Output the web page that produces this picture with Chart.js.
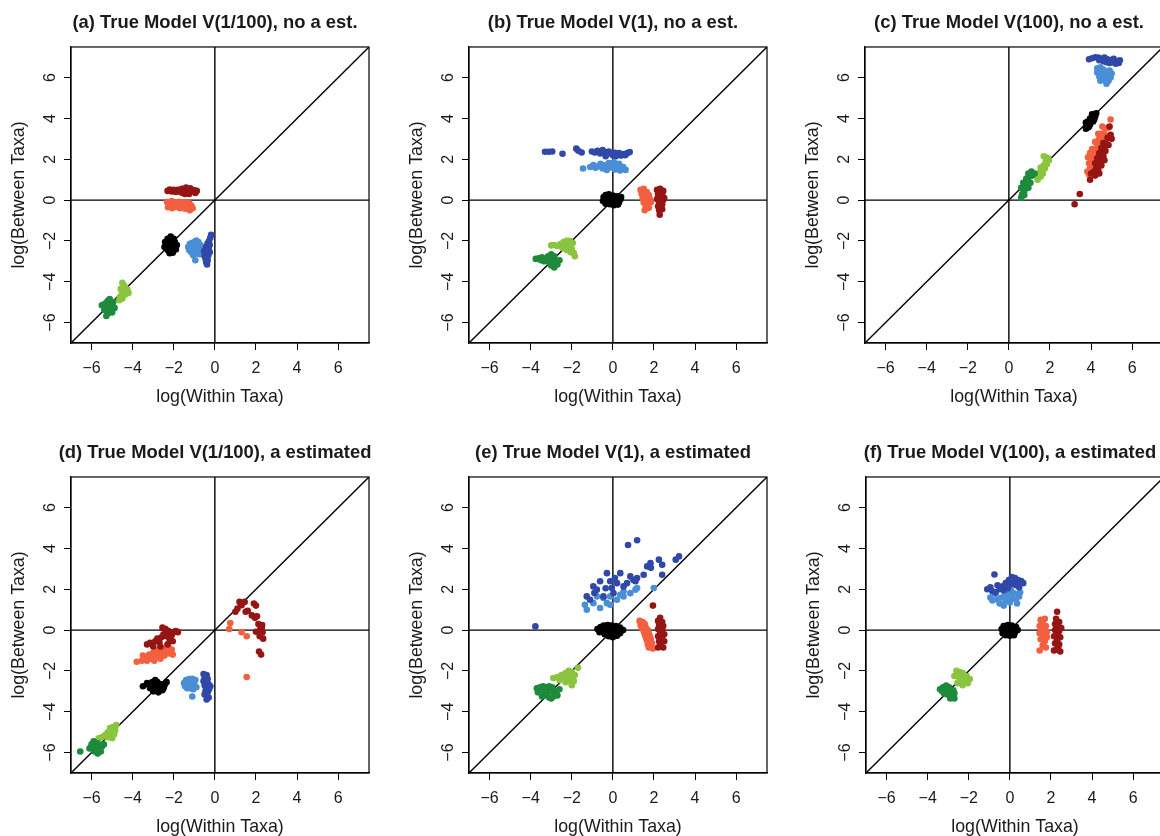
<!DOCTYPE html>
<html>
<head>
<meta charset="utf-8">
<script src="https://cdn.jsdelivr.net/npm/chart.js@4.4.1/dist/chart.umd.min.js"></script>
<style>
    html, body { margin: 0; padding: 0; background: #fff; overflow: hidden; width: 1160px; height: 836px; }
    canvas { position: absolute; }
</style>
</head>
<body>
<canvas id="panel-a" width="430" height="420" style="left:0;top:0"></canvas>
<canvas id="panel-b" width="430" height="420" style="left:398px;top:0"></canvas>
<canvas id="panel-c" width="430" height="420" style="left:794px;top:0"></canvas>
<canvas id="panel-d" width="430" height="420" style="left:0;top:430px"></canvas>
<canvas id="panel-e" width="430" height="420" style="left:398px;top:430px"></canvas>
<canvas id="panel-f" width="430" height="420" style="left:795px;top:430px"></canvas>
<script>
// axis set-up shared by all six panels
const axisMin = -7;
const axisMax = 7.5;
const tickValues = [-6, -4, -2, 0, 2, 4, 6];
const xTitle = "log(Within Taxa)";
const yTitle = "log(Between Taxa)";
const panelTitles = [
    "(a) True Model V(1/100), no a est.",
    "(b) True Model V(1), no a est.",
    "(c) True Model V(100), no a est.",
    "(d) True Model V(1/100), a estimated",
    "(e) True Model V(1), a estimated",
    "(f) True Model V(100), a estimated",
];

// reference lines: y = x, y = 0, x = 0
const diagLine = [[-7, -7], [7.5, 7.5]];
const hLine = [[-7, 0], [7.5, 0]];
const vLine = [[0, -7], [0, 7.5]];

// (a)
const aDarkBlue = [[-0.18,-1.7],[-0.22,-1.85],[-0.28,-2.0],[-0.35,-2.12],[-0.25,-2.2],[-0.42,-2.28],[-0.3,-2.35],[-0.45,-2.42],[-0.35,-2.5],[-0.25,-2.55],[-0.42,-2.62],[-0.5,-2.75],[-0.32,-2.72],[-0.45,-2.88],[-0.35,-2.95],[-0.42,-3.05],[-0.38,-3.15],[-0.52,-2.5]];
const aLightBlue = [[-1.3,-2.3],[-1.22,-2.15],[-1.12,-2.1],[-1.0,-2.05],[-0.9,-1.98],[-0.8,-2.05],[-0.7,-2.2],[-0.65,-2.4],[-1.25,-2.45],[-1.12,-2.35],[-1.0,-2.3],[-0.88,-2.3],[-0.78,-2.45],[-1.15,-2.55],[-1.0,-2.5],[-0.9,-2.6],[-0.75,-2.65],[-1.05,-2.7],[-0.95,-2.95],[-1.2,-2.2]];
const aBlack = [[-2.15,-1.78],[-2.3,-1.9],[-2.0,-1.9],[-2.42,-2.05],[-2.2,-2.02],[-1.95,-2.05],[-2.35,-2.2],[-2.1,-2.18],[-1.85,-2.2],[-2.45,-2.3],[-2.25,-2.32],[-2.0,-2.35],[-2.3,-2.45],[-2.1,-2.48],[-1.9,-2.42],[-2.2,-2.6],[-2.05,-2.58],[-2.15,-2.3],[-2.25,-2.15]];
const aDarkRed = [[-2.3,0.45],[-2.2,0.52],[-2.1,0.42],[-2.0,0.5],[-1.9,0.4],[-1.8,0.5],[-1.7,0.45],[-1.6,0.55],[-1.55,0.35],[-1.5,0.48],[-1.4,0.62],[-1.35,0.4],[-1.3,0.52],[-1.25,0.3],[-1.2,0.58],[-1.15,0.42],[-1.1,0.5],[-1.0,0.48],[-0.95,0.35],[-0.88,0.45],[-1.45,0.3],[-1.65,0.38]];
const aSalmon = [[-2.32,-0.1],[-2.28,-0.35],[-2.18,-0.22],[-2.08,-0.4],[-1.98,-0.15],[-1.9,-0.33],[-1.8,-0.25],[-1.7,-0.4],[-1.62,-0.12],[-1.55,-0.3],[-1.45,-0.42],[-1.38,-0.2],[-1.3,-0.35],[-1.22,-0.5],[-1.15,-0.27],[-1.08,-0.4],[-1.75,-0.08],[-1.45,-0.1],[-2.1,-0.05],[-1.25,-0.15]];
const aDarkGreen = [[-5.12,-4.85],[-5.22,-4.95],[-4.95,-5.0],[-5.35,-5.08],[-5.05,-5.15],[-5.5,-5.15],[-5.25,-5.25],[-4.88,-5.28],[-5.38,-5.38],[-5.1,-5.42],[-5.2,-5.55],[-5.28,-5.68],[-5.0,-5.5],[-5.15,-5.3]];
const aLightGreen = [[-4.5,-4.05],[-4.42,-4.18],[-4.35,-4.3],[-4.58,-4.35],[-4.42,-4.42],[-4.25,-4.4],[-4.2,-4.55],[-4.52,-4.58],[-4.35,-4.62],[-4.62,-4.75],[-4.5,-4.82],[-4.3,-4.55],[-4.65,-4.9]];

// (b)
const bDarkBlue = [[-3.3,2.37],[-3.12,2.37],[-2.95,2.38],[-2.45,2.27],[-1.78,2.52],[-1.68,2.42],[-1.52,2.33],[-1.02,2.38],[-0.88,2.33],[-0.75,2.42],[-0.62,2.28],[-0.5,2.45],[-0.4,2.35],[-0.3,2.25],[-0.2,2.38],[-0.1,2.3],[0.0,2.2],[0.1,2.32],[0.2,2.22],[0.3,2.3],[0.4,2.18],[0.5,2.25],[0.6,2.2],[0.7,2.3],[0.82,2.35],[-0.35,2.15],[0.15,2.15]];
const bLightBlue = [[-1.45,1.55],[-1.1,1.62],[-0.95,1.72],[-0.85,1.58],[-0.72,1.65],[-0.6,1.78],[-0.5,1.55],[-0.4,1.7],[-0.3,1.48],[-0.2,1.82],[-0.1,1.6],[0.0,1.7],[0.1,1.5],[0.2,1.65],[0.3,1.78],[0.4,1.55],[0.5,1.62],[0.62,1.48],[-0.25,1.62],[0.05,1.85],[0.35,1.45]];
const bBlack = [[-0.45,0.15],[-0.35,0.25],[-0.2,0.28],[0.0,0.22],[0.2,0.18],[0.38,0.05],[-0.48,-0.05],[-0.3,0.05],[-0.1,0.08],[0.1,0.02],[0.3,-0.1],[-0.35,-0.18],[-0.15,-0.2],[0.05,-0.25],[0.25,-0.22],[-0.05,-0.05],[0.4,0.15]];
const bDarkRed = [[2.15,0.5],[2.3,0.55],[2.45,0.45],[2.2,0.3],[2.4,0.25],[2.3,0.1],[2.15,0.05],[2.45,0.0],[2.25,-0.1],[2.4,-0.2],[2.2,-0.3],[2.35,-0.38],[2.25,-0.5],[2.4,-0.45],[2.28,-0.72],[2.5,0.1]];
const bSalmon = [[1.35,0.5],[1.5,0.55],[1.65,0.4],[1.4,0.3],[1.55,0.2],[1.75,0.25],[1.45,0.08],[1.6,0.0],[1.8,0.05],[1.5,-0.12],[1.68,-0.18],[1.85,-0.1],[1.6,-0.3],[1.75,-0.38],[1.55,-0.5],[1.7,0.15]];
const bDarkGreen = [[-3.75,-2.88],[-3.6,-2.85],[-3.45,-2.8],[-3.3,-2.9],[-3.15,-2.75],[-3.0,-2.65],[-2.85,-2.75],[-3.35,-3.0],[-3.1,-3.05],[-2.95,-2.95],[-2.8,-3.0],[-3.0,-3.2],[-2.85,-3.3],[-2.7,-3.15],[-2.6,-2.95],[-3.5,-2.95]];
const bLightGreen = [[-3.0,-2.22],[-2.85,-2.2],[-2.7,-2.25],[-2.55,-2.15],[-2.4,-2.05],[-2.25,-2.0],[-2.1,-2.0],[-1.95,-2.1],[-2.3,-2.25],[-2.15,-2.3],[-2.0,-2.4],[-2.25,-2.45],[-2.05,-2.55],[-1.9,-2.6],[-1.85,-2.75],[-2.45,-2.35]];

// (c)
const cDarkBlue = [[3.9,6.9],[4.05,6.95],[4.2,7.0],[4.35,6.98],[4.5,6.92],[4.65,6.98],[4.8,6.9],[4.95,6.85],[5.1,6.92],[5.25,6.8],[5.4,6.85],[4.4,6.85],[4.6,6.8],[4.75,6.75],[4.9,6.72],[5.05,6.75],[5.2,6.68],[5.35,6.72]];
const cLightBlue = [[4.3,6.45],[4.45,6.5],[4.6,6.4],[4.3,6.25],[4.5,6.2],[4.7,6.3],[4.9,6.35],[4.4,6.05],[4.6,6.05],[4.8,6.1],[4.95,6.0],[4.45,5.85],[4.65,5.9],[4.85,5.85],[4.75,5.7],[5.0,6.2]];
const cBlack = [[3.75,3.5],[3.85,3.55],[3.8,3.7],[3.95,3.7],[3.85,3.85],[4.0,3.9],[4.1,3.85],[3.95,4.0],[4.1,4.05],[4.2,4.1],[4.05,4.2],[4.25,4.25],[3.9,3.6],[4.15,3.95],[3.75,3.8]];
const cDarkRed = [[3.2,-0.2],[3.45,0.3],[3.95,1.0],[4.0,1.3],[4.15,1.4],[4.25,1.55],[4.2,1.8],[4.35,1.75],[4.3,2.05],[4.45,2.0],[4.4,2.3],[4.55,2.25],[4.5,2.55],[4.65,2.5],[4.6,2.8],[4.75,2.75],[4.8,3.05],[4.95,3.2],[4.9,3.6],[4.35,1.45],[4.6,2.15],
    [4.5,1.7],[4.7,2.4],[4.85,2.7],[5.0,3.0],[4.65,1.95],[4.4,1.3],[4.2,1.2]];
const cSalmon = [[3.82,1.4],[3.95,1.55],[3.9,1.8],[4.05,1.7],[4.0,2.0],[4.15,1.95],[4.1,2.25],[4.25,2.2],[4.2,2.5],[4.35,2.45],[4.3,2.75],[4.45,2.7],[4.4,3.0],[4.55,2.95],[4.5,3.25],[4.65,3.2],[4.7,3.5],[4.85,3.55],[4.95,3.95],[3.95,2.3],[4.6,2.6],
    [3.85,2.1],[4.05,2.5],[4.2,2.85],[4.35,3.25],[4.55,3.6],[3.9,1.25],[4.15,1.6]];
const cDarkGreen = [[0.6,0.12],[0.65,0.3],[0.75,0.45],[0.6,0.6],[0.8,0.7],[0.95,0.6],[0.7,0.85],[0.9,0.9],[1.05,0.85],[0.85,1.05],[1.0,1.15],[1.15,1.2],[1.1,1.4],[1.25,1.3],[0.75,0.25],[0.95,1.3]];
const cLightGreen = [[1.4,1.0],[1.45,1.2],[1.5,1.35],[1.55,1.15],[1.6,1.5],[1.65,1.3],[1.7,1.7],[1.75,1.55],[1.8,1.9],[1.85,1.75],[1.9,2.05],[1.95,1.95],[1.7,2.15],[1.55,1.6],[1.8,2.1]];

// (d)
const dDarkBlue = [[-0.55,-2.15],[-0.4,-2.2],[-0.5,-2.35],[-0.35,-2.4],[-0.55,-2.5],[-0.4,-2.55],[-0.3,-2.65],[-0.5,-2.7],[-0.38,-2.8],[-0.28,-2.9],[-0.45,-2.95],[-0.35,-3.05],[-0.5,-3.15],[-0.3,-3.3],[-0.4,-3.4],[-0.22,-2.75]];
const dLightBlue = [[-1.5,-2.6],[-1.4,-2.45],[-1.25,-2.4],[-1.1,-2.38],[-0.95,-2.45],[-1.45,-2.75],[-1.3,-2.65],[-1.15,-2.6],[-1.0,-2.65],[-0.9,-2.8],[-1.35,-2.85],[-1.2,-2.85],[-1.05,-2.9],[-1.1,-3.25],[-1.25,-2.5]];
const dBlack = [[-3.5,-2.75],[-3.3,-2.6],[-3.15,-2.85],[-3.05,-2.55],[-2.95,-2.75],[-2.85,-2.95],[-2.8,-2.55],[-2.7,-2.8],[-2.6,-2.65],[-2.55,-2.95],[-2.45,-2.7],[-2.35,-2.55],[-3.0,-3.0],[-2.75,-3.05],[-3.2,-2.7],[-2.9,-2.45],[-2.5,-2.85]];
const dDarkRed = [[-3.3,-0.7],[-3.15,-0.62],[-3.0,-0.8],[-2.9,-0.55],[-2.8,-0.42],[-2.7,-0.6],[-2.6,-0.35],[-2.5,-0.2],[-2.55,0.12],[-2.4,0.05],[-2.35,-0.3],[-2.25,-0.05],[-2.2,-0.45],[-2.1,-0.25],[-2.0,-0.1],[-1.9,-0.05],[-1.8,-0.1],[-2.65,-0.8],[-2.3,-0.7],[-2.05,-0.55],
    [1.0,0.9],[1.1,1.05],[1.2,1.38],[1.3,1.22],[1.45,1.38],[1.5,0.9],[1.6,0.95],[1.8,0.72],[1.9,1.3],[2.0,1.2],[1.95,0.6],[2.05,0.68],[2.12,0.3],[2.2,0.02],[2.3,0.25],[2.32,-0.1],[2.18,-0.3],[2.35,-0.42],[2.0,-0.08],[2.15,-1.05],[2.25,-1.2],[2.28,0.1]];
const dSalmon = [[-3.8,-1.55],[-3.55,-1.5],[-3.4,-1.35],[-3.3,-1.5],[-3.2,-1.2],[-3.1,-1.4],[-3.0,-1.1],[-2.9,-1.3],[-2.8,-1.0],[-2.75,-1.2],[-2.65,-1.4],[-2.6,-1.1],[-2.5,-0.9],[-2.45,-1.25],[-2.35,-1.05],[-2.25,-0.85],[-2.2,-1.15],[-2.1,-0.95],[-2.05,-1.2],[-3.5,-1.25],[-2.95,-1.5],
    [0.75,0.35],[0.7,0.05],[1.3,-0.1],[1.55,-0.3],[1.55,-2.3]];
const dDarkGreen = [[-6.55,-5.95],[-6.1,-5.8],[-6.0,-5.6],[-5.9,-5.45],[-5.8,-5.7],[-5.7,-5.55],[-5.6,-5.85],[-5.5,-5.7],[-5.4,-5.6],[-5.85,-5.95],[-5.7,-6.05],[-5.55,-5.95],[-5.9,-5.85],[-6.05,-5.75]];
const dLightGreen = [[-4.8,-4.65],[-4.95,-4.75],[-5.1,-4.8],[-4.85,-4.9],[-5.0,-4.95],[-5.2,-5.0],[-5.3,-5.1],[-5.05,-5.15],[-4.9,-5.1],[-5.4,-5.2],[-5.5,-5.25],[-5.2,-5.25],[-5.65,-5.3],[-5.0,-5.3]];

// (e)
const eDarkBlue = [[-3.77,0.18],[0.74,4.17],[1.18,4.4],[-0.95,2.14],[-1.27,1.65],[-0.78,1.98],[-0.29,2.79],[-0.13,2.39],[0.36,2.79],[0.2,2.3],[0.52,2.14],[0.85,2.63],[1.18,2.55],[1.1,2.39],[1.67,3.12],[1.83,3.28],[2.24,3.45],[2.4,3.2],[2.4,2.71],[3.06,3.45],[3.22,3.61],[1.5,2.71],[-0.46,1.65],[-1.11,1.49],[0.03,1.81],[-0.62,2.39],[0.69,2.3],[-0.05,2.06],[-0.9,1.82],[0.1,2.55],[1.0,2.45],[1.85,3.05],[-0.35,2.05]];
const eLightBlue = [[-1.27,1.0],[-1.36,1.24],[-0.95,1.32],[-0.62,1.08],[-0.29,1.32],[-0.13,1.65],[0.2,1.49],[0.52,1.65],[0.85,1.81],[1.1,1.98],[0.52,1.9],[-0.46,1.57],[-0.78,1.65],[1.99,2.06],[-0.13,1.24],[0.36,1.73],[1.18,2.06]];
const eBlack = [[-0.75,0.05],[-0.6,0.15],[-0.45,0.22],[-0.25,0.25],[-0.05,0.22],[0.15,0.2],[0.35,0.12],[0.5,0.0],[-0.65,-0.1],[-0.45,-0.05],[-0.25,0.02],[-0.05,0.0],[0.15,-0.05],[0.35,-0.15],[-0.4,-0.2],[-0.2,-0.3],[0.0,-0.35],[0.2,-0.28],[-0.1,-0.15]];
const eDarkRed = [[1.95,1.2],[2.3,0.6],[2.2,0.45],[2.4,0.4],[2.25,0.25],[2.45,0.2],[2.2,0.05],[2.4,0.0],[2.3,-0.15],[2.5,-0.2],[2.2,-0.3],[2.4,-0.4],[2.25,-0.55],[2.5,-0.55],[2.3,-0.7],[2.45,-0.85],[2.2,-0.85],[2.35,0.3]];
const eSalmon = [[1.3,0.45],[1.45,0.4],[1.35,0.25],[1.55,0.3],[1.4,0.1],[1.6,0.12],[1.5,-0.05],[1.7,0.0],[1.55,-0.2],[1.75,-0.15],[1.6,-0.35],[1.8,-0.3],[1.65,-0.5],[1.85,-0.45],[1.7,-0.7],[1.9,-0.65],[1.75,-0.85],[1.95,-0.9],[1.5,0.2]];
const eDarkGreen = [[-3.7,-2.85],[-3.55,-2.8],[-3.4,-2.75],[-3.25,-2.8],[-3.1,-2.75],[-2.95,-2.8],[-3.65,-3.05],[-3.5,-3.0],[-3.35,-3.05],[-3.2,-3.0],[-3.05,-2.95],[-2.9,-3.05],[-2.75,-3.0],[-3.45,-3.25],[-3.3,-3.2],[-3.1,-3.3],[-2.9,-3.25],[-2.7,-3.2],[-2.6,-2.9],[-3.0,-3.35]];
const eLightGreen = [[-1.7,-1.85],[-2.0,-2.05],[-2.15,-2.0],[-2.3,-2.1],[-2.5,-2.2],[-2.7,-2.3],[-2.9,-2.35],[-2.4,-2.35],[-2.2,-2.3],[-2.0,-2.3],[-2.1,-2.5],[-1.9,-2.5],[-2.3,-2.55],[-2.0,-2.7],[-2.6,-2.45],[-1.85,-2.2]];

// (f)
const fDarkBlue = [[-0.75,2.72],[-1.1,2.0],[-0.95,2.1],[-0.85,1.9],[-0.7,1.85],[-0.5,2.0],[-0.35,2.15],[-0.2,2.3],[-0.05,2.45],[0.1,2.6],[0.25,2.55],[0.4,2.45],[0.55,2.4],[0.65,2.3],[-0.3,1.95],[-0.1,2.05],[0.1,2.25],[0.3,2.2],[0.45,2.1],[-0.6,2.2],[0.0,2.35],[0.2,2.4]];
const fLightBlue = [[-0.95,1.6],[-0.85,1.45],[-0.7,1.75],[-0.6,1.5],[-0.5,1.3],[-0.4,1.6],[-0.3,1.2],[-0.2,1.45],[-0.1,1.7],[0.0,1.35],[0.1,1.55],[0.2,1.8],[0.3,1.5],[0.45,1.65],[0.5,1.85],[0.05,1.95],[-0.25,1.85],[0.35,1.3]];
const fBlack = [[-0.4,0.05],[-0.3,0.2],[-0.1,0.25],[0.1,0.22],[0.3,0.15],[0.38,0.0],[-0.35,-0.15],[-0.15,-0.05],[0.05,0.0],[0.25,-0.1],[-0.2,-0.25],[0.0,-0.28],[0.2,-0.25],[-0.05,0.1]];
const fDarkRed = [[2.3,0.9],[2.25,0.55],[2.4,0.4],[2.2,0.3],[2.35,0.2],[2.5,0.1],[2.2,0.0],[2.4,-0.05],[2.3,-0.2],[2.15,-0.3],[2.45,-0.35],[2.3,-0.5],[2.2,-0.65],[2.4,-0.7],[2.25,-0.95],[2.45,-1.05],[2.15,-1.0],[2.35,-0.85]];
const fSalmon = [[1.5,0.5],[1.7,0.55],[1.6,0.35],[1.45,0.2],[1.75,0.2],[1.55,0.05],[1.7,-0.05],[1.45,-0.15],[1.65,-0.25],[1.8,-0.35],[1.5,-0.45],[1.7,-0.55],[1.6,-0.75],[1.75,-0.85],[1.45,-1.0],[1.8,-0.1]];
const fDarkGreen = [[-3.4,-2.9],[-3.25,-2.8],[-3.1,-2.72],[-2.95,-2.8],[-3.3,-3.0],[-3.1,-2.95],[-2.9,-3.0],[-2.75,-2.95],[-3.05,-3.15],[-2.85,-3.2],[-2.7,-3.1],[-2.9,-3.35],[-2.7,-3.35],[-3.2,-3.1]];
const fLightGreen = [[-2.6,-2.0],[-2.45,-2.05],[-2.3,-2.1],[-2.7,-2.25],[-2.5,-2.3],[-2.3,-2.35],[-2.1,-2.25],[-1.95,-2.4],[-2.4,-2.5],[-2.2,-2.55],[-2.05,-2.6],[-2.3,-2.7],[-2.55,-2.6]];

const colors = {
    darkBlue: "#3048a8",
    lightBlue: "#4a8fd6",
    black: "#000000",
    darkRed: "#951515",
    salmon: "#f2603f",
    darkGreen: "#1d8a3c",
    lightGreen: "#8bc53f",
};

const fontFamily = "'Liberation Sans', Arial, Helvetica, sans-serif";
const textColor = "#1a1a1a";

const toPoints = (pairs) => pairs.map(([x, y]) => ({x, y}));

const framePlugin = {
    id: "frame",
    afterDraw(chart) {
        const {ctx, chartArea} = chart;
        ctx.save();
        ctx.strokeStyle = "#000";
        ctx.lineWidth = 1.2;
        ctx.strokeRect(chartArea.left, chartArea.top, chartArea.right - chartArea.left, chartArea.bottom - chartArea.top);
        ctx.restore();
    },
};

const axis = (isY) => ({
    type: "linear",
    min: axisMin,
    max: axisMax,
    afterBuildTicks: (scale) => {
        scale.ticks = tickValues.map((v) => ({value: v}));
    },
    afterFit: (scale) => {
        if (isY) scale.width = 71;
        else scale.height = 77;
    },
    grid: {
        drawOnChartArea: false,
        drawTicks: true,
        tickLength: 7,
        color: "#000",
        lineWidth: 1,
    },
    border: {display: true, color: "#000", width: 1.2},
    ticks: Object.assign({
        color: textColor,
        font: {family: fontFamily, size: 16},
        callback: (v) => String(v).replace("-", "\u2212"),
    }, isY ? {minRotation: 90, maxRotation: 90, crossAlign: "center", padding: 4} : {maxRotation: 0, padding: 9}),
    title: {
        display: true,
        text: isY ? yTitle : xTitle,
        color: textColor,
        font: {family: fontFamily, size: 17.8},
        padding: isY ? {top: 8} : {bottom: 12},
    },
});

// empty right-hand axis: keeps the plot square while the title centres over the plot
const spacerAxis = {
    position: "right",
    display: true,
    grid: {display: false},
    border: {display: false},
    ticks: {display: false},
    afterFit: (scale) => { scale.width = 61; },
};

const refLine = (pairs) => ({
    data: toPoints(pairs),
    showLine: true,
    borderColor: "#000",
    borderWidth: 1.4,
    pointRadius: 0,
    order: 10,
});

const cloud = (pairs, color) => ({
    data: toPoints(pairs),
    backgroundColor: color,
    borderWidth: 0,
    pointRadius: 3.3,
    pointHoverRadius: 3.3,
    order: 0,
});

const makePanel = (id, title, groups) => {
    const ctx = document.getElementById(id).getContext("2d");
    new Chart(ctx, {
        type: "scatter",
        data: {
            datasets: [
                cloud(groups.darkRed, colors.darkRed),
                cloud(groups.salmon, colors.salmon),
                cloud(groups.darkBlue, colors.darkBlue),
                cloud(groups.lightBlue, colors.lightBlue),
                cloud(groups.black, colors.black),
                cloud(groups.darkGreen, colors.darkGreen),
                cloud(groups.lightGreen, colors.lightGreen),
                refLine(diagLine),
                refLine(hLine),
                refLine(vLine),
            ],
        },
        options: {
            responsive: false,
            animation: false,
            events: [],
            layout: {padding: 0},
            plugins: {
                legend: {display: false},
                tooltip: {enabled: false},
                title: {
                    display: true,
                    text: title,
                    color: textColor,
                    font: {family: fontFamily, size: 18.4, weight: "bold"},
                    padding: {top: 12, bottom: 12.9},
                },
            },
            scales: {
                x: axis(false),
                y: axis(true),
                yRight: spacerAxis,
            },
        },
        plugins: [framePlugin],
    });
};

makePanel("panel-a", panelTitles[0], {darkBlue: aDarkBlue, lightBlue: aLightBlue, black: aBlack, darkRed: aDarkRed, salmon: aSalmon, darkGreen: aDarkGreen, lightGreen: aLightGreen});
makePanel("panel-b", panelTitles[1], {darkBlue: bDarkBlue, lightBlue: bLightBlue, black: bBlack, darkRed: bDarkRed, salmon: bSalmon, darkGreen: bDarkGreen, lightGreen: bLightGreen});
makePanel("panel-c", panelTitles[2], {darkBlue: cDarkBlue, lightBlue: cLightBlue, black: cBlack, darkRed: cDarkRed, salmon: cSalmon, darkGreen: cDarkGreen, lightGreen: cLightGreen});
makePanel("panel-d", panelTitles[3], {darkBlue: dDarkBlue, lightBlue: dLightBlue, black: dBlack, darkRed: dDarkRed, salmon: dSalmon, darkGreen: dDarkGreen, lightGreen: dLightGreen});
makePanel("panel-e", panelTitles[4], {darkBlue: eDarkBlue, lightBlue: eLightBlue, black: eBlack, darkRed: eDarkRed, salmon: eSalmon, darkGreen: eDarkGreen, lightGreen: eLightGreen});
makePanel("panel-f", panelTitles[5], {darkBlue: fDarkBlue, lightBlue: fLightBlue, black: fBlack, darkRed: fDarkRed, salmon: fSalmon, darkGreen: fDarkGreen, lightGreen: fLightGreen});
</script>
</body>
</html>
